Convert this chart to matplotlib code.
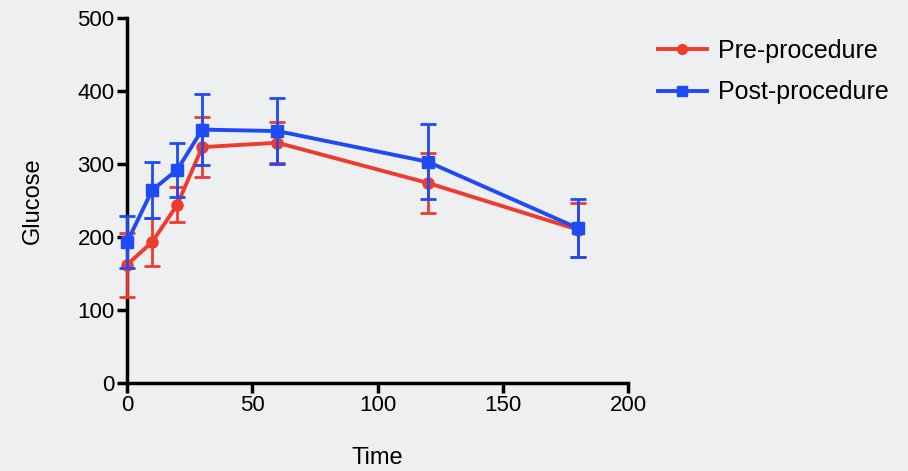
import matplotlib.pyplot as plt
from matplotlib.lines import Line2D

plt.rcParams['font.family'] = ['Liberation Sans', 'DejaVu Sans']

# data
time_pts = [0, 10, 20, 30, 60, 120, 180]
pre_mean = [162, 193, 244, 323, 329, 274, 210]
pre_err = [44, 33, 24, 41, 28, 41, 37]
post_mean = [193, 264, 292, 347, 345, 303, 212]
post_err = [35, 38, 37, 49, 45, 51, 40]

RED = '#ee3b2e'
BLUE = '#1f4bf5'

fig = plt.figure(figsize=(9.08, 4.71), dpi=100)
fig.patch.set_facecolor('#eeeff1')
ax = fig.add_axes([0.14, 0.187, 0.5516, 0.775])
ax.set_facecolor('none')

ax.errorbar(time_pts, pre_mean, yerr=pre_err, color=RED, marker='o', ms=8,
            lw=2.8, elinewidth=2, capsize=6, capthick=2, zorder=3)
ax.errorbar(time_pts, post_mean, yerr=post_err, color=BLUE, marker='s', ms=8,
            lw=2.8, elinewidth=2, capsize=6, capthick=2, zorder=4)

ax.set_xlim(0, 200)
ax.set_ylim(0, 500)
ax.set_xticks([0, 50, 100, 150, 200])
ax.set_yticks([0, 100, 200, 300, 400, 500])
for s in ['top', 'right']:
    ax.spines[s].set_visible(False)
for s in ['left', 'bottom']:
    ax.spines[s].set_linewidth(2.5)
ax.tick_params(width=2.5, length=7, labelsize=16, pad=2)
for art in ax.get_children():
    art.set_clip_on(False)

ax.set_xlabel('Time', fontsize=17, labelpad=22)
ax.set_ylabel('Glucose', fontsize=17, labelpad=24)

handles = [Line2D([], [], color=RED, marker='o', ms=7, lw=2.8),
           Line2D([], [], color=BLUE, marker='s', ms=7, lw=2.8)]
ax.legend(handles, ['Pre-procedure', 'Post-procedure'], loc='upper left',
          bbox_to_anchor=(1.04, 0.97), frameon=False, fontsize=18,
          handlelength=1.95, handletextpad=0.45, labelspacing=0.7,
          borderaxespad=0)

fig.savefig('out.png', dpi=100, facecolor=fig.get_facecolor())
